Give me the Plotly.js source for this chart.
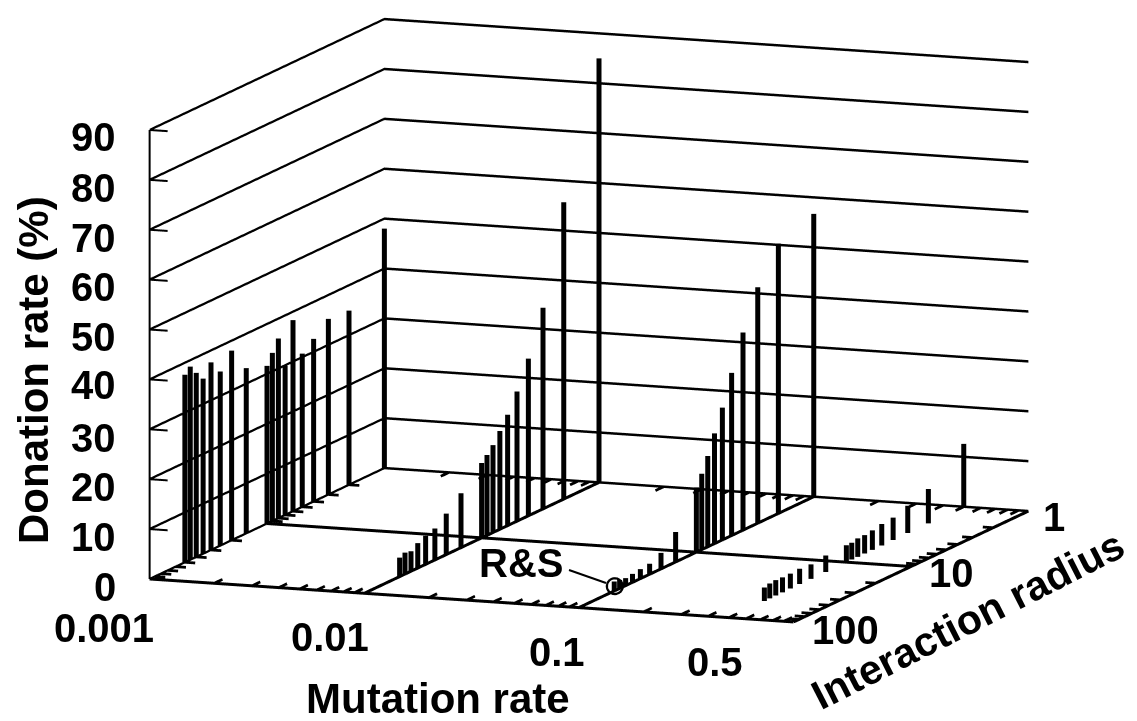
<!DOCTYPE html>
<html><head><meta charset="utf-8">
<script src="https://cdn.plot.ly/plotly-3.0.1.min.js"></script>
<style>html,body{margin:0;padding:0;background:#fff}#c{width:1137px;height:721px}</style>
</head><body><div id="c"></div>
<script>
const radii = [1,2,3,4,5,6,7,8,9,10,15,20,25,30,35,40,45,50];
const mutation001 = [48,34.9,35.2,32.6,30.7,38.3,29.9,36,33.7,31.6,33.1,38,34.9,37.6,35.1,36.9,38.7,37.6];
const mutation01  = [85,59.5,40.3,31.5,26,22.2,19.7,17.5,16.1,15,10.9,8.2,6.3,5.7,5,4,4.3,3.8];
const mutation1   = [56.7,54.1,47.3,39.6,32.6,26.5,22.1,18.2,15.2,13,6,3.2,2.1,1.9,1.7,1.5,1.7,1.9];
const mutation5   = [12.6,6.9,5.5,4.5,4.3,3.9,3.7,3.7,3.4,3.4,3.3,2.9,3.1,3,3,3.1,3,2.7];
const mutationRates = [0.001,0.01,0.1,0.5];
const seriesValues = [mutation001,mutation01,mutation1,mutation5];
const zTicks = [0,10,20,30,40,50,60,70,80,90];
const minorMult = [2,3,4,5,6,7,8,9];
const xDecades = [0.001,0.01,0.1];
const yDecades = [1,10];
const rsPoint = {m:0.1,r:50,z:1};
const F = 'Liberation Sans, Arial, sans-serif';
const XR=[0.001,1], YR=[100,1];

function seg(list){const x=[],y=[],z=[];list.forEach(s=>{x.push(s[0][0],s[1][0],null);y.push(s[0][1],s[1][1],null);z.push(s[0][2],s[1][2],null);});return {x,y,z};}
function lineTrace(list,w){return Object.assign({type:'scatter3d',mode:'lines',line:{color:'#000',width:w},hoverinfo:'skip',showlegend:false},seg(list));}

const traces=[];
mutationRates.forEach((m,i)=>{
  traces.push(lineTrace(radii.map((r,j)=>[[m,r,0],[m,r,seriesValues[i][j]]]),10));
});
const frame=[[[XR[0],YR[0],0],[XR[1],YR[0],0]],[[XR[1],YR[0],0],[XR[1],YR[1],0]]];
xDecades.slice(1).forEach(m=>frame.push([[m,YR[0],0],[m,YR[1],0]]));
frame.push([[XR[0],10,0],[XR[1],10,0]]);
traces.push(lineTrace(frame,6));
const vert=[[[XR[0],YR[0],0],[XR[0],YR[0],90]]];
traces.push(lineTrace(vert,4));
const ticks=[];const xTickLen=Math.pow(100,0.035),yTickLen=Math.pow(1000,0.016);
xDecades.forEach(d=>minorMult.forEach(k=>{const m=d*k;
  ticks.push([[m,YR[0],0],[m,YR[0]/xTickLen,0]]);
  ticks.push([[m,YR[1],0],[m,YR[1]*xTickLen,0]]);}));
yDecades.forEach(d=>minorMult.forEach(k=>{const r=d*k;
  ticks.push([[XR[0],r,0],[XR[0]*yTickLen,r,0]]);
  ticks.push([[XR[1],r,0],[XR[1]/yTickLen,r,0]]);}));
traces.push(lineTrace(ticks,5.5));
const zStubLen=Math.pow(1000,0.028);
traces.push(lineTrace(zTicks.map(z=>[[XR[0],YR[0],z],[XR[0]*zStubLen,YR[0],z]]),4));
traces.push({type:'scatter3d',mode:'markers',x:[rsPoint.m],y:[rsPoint.r],z:[rsPoint.z],marker:{symbol:'circle-open',size:10,color:'#000',line:{color:'#000',width:1}},hoverinfo:'skip',showlegend:false});

function ax(range,type){return {type,range,showgrid:false,zeroline:false,showline:false,showticklabels:false,ticks:'',showbackground:false,showspikes:false,title:{text:''}};}
const zAxis=ax([0,90],'linear');
Object.assign(zAxis,{showgrid:true,gridcolor:'#000',gridwidth:5,tickmode:'array',tickvals:zTicks});

const ann=[];
function T(text,x,y,size,rot){ann.push({xref:'paper',yref:'paper',x:x/1137,y:1-y/721,xanchor:'center',yanchor:'middle',text,showarrow:false,textangle:rot||0,font:{family:F,size,color:'#000'}});}
const zLabelY=[587,537,487,438,385,337,287,238,188,137];
zTicks.forEach((z,i)=>{ann.push({xref:'paper',yref:'paper',x:118/1137,y:1-zLabelY[i]/721,xanchor:'right',yanchor:'middle',text:'<b>'+z+'</b>',showarrow:false,font:{family:F,size:40,color:'#000'}});});
T('<b>Donation rate (%)</b>',33,370,42,-90);
T('<b>0.001</b>',104,628,40);T('<b>0.01</b>',330,637,40);T('<b>0.1</b>',557,652,40);T('<b>0.5</b>',715,662,40);
T('<b>Mutation rate</b>',438,698,42);
T('<b>100</b>',845,630,40);T('<b>10</b>',951,573,40);T('<b>1</b>',1054,517,40);
T('<b>Interaction radius</b>',968,620,41,-27);
T('<b>R&amp;S</b>',521,563,40);

Plotly.newPlot('c',traces,{
  width:1137,height:721,margin:{l:0,r:0,t:0,b:0},paper_bgcolor:'#fff',showlegend:false,annotations:ann,
  shapes:[{type:'line',xref:'paper',yref:'paper',x0:569/1137,y0:1-570/721,x1:606/1137,y1:1-583/721,line:{color:'#000',width:2}}],
  scene:{domain:{x:[42/1137,1136/1137],y:[83/721,718/721]},
    aspectmode:'manual',aspectratio:{x:2.167,y:2.102,z:1.437},
    camera:{projection:{type:'orthographic'},up:{x:0,y:0,z:1},center:{x:0,y:0,z:0},eye:{x:0.3462*2,y:-0.9212*2,z:0.1775*2}},
    xaxis:ax([Math.log10(XR[0]),Math.log10(XR[1])],'log'),
    yaxis:ax([Math.log10(YR[0]),Math.log10(YR[1])],'log'),
    zaxis:zAxis}
},{displayModeBar:false});
</script></body></html>
